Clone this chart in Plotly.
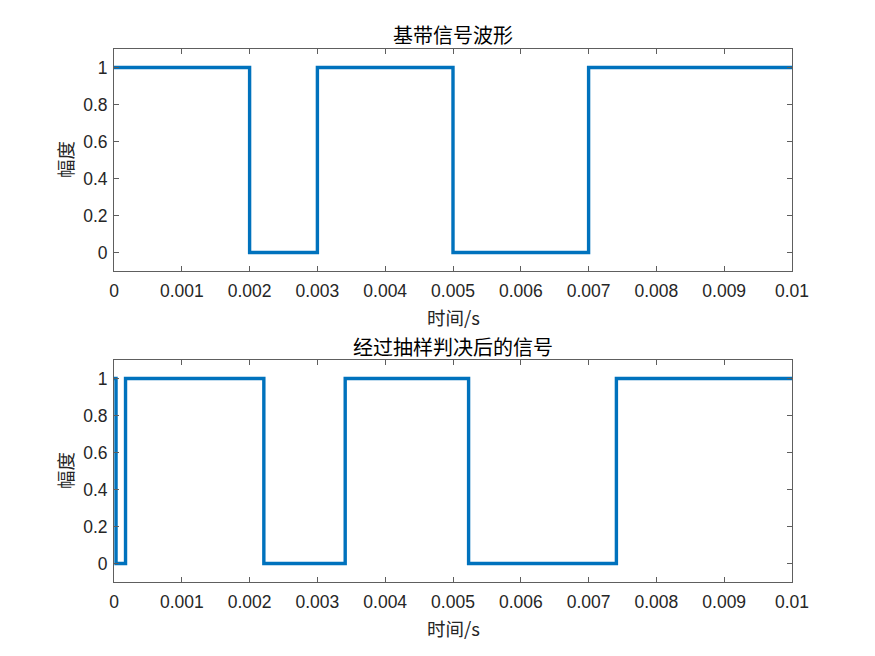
import plotly.graph_objects as go

# Data
t_base = [0, 0.002, 0.003, 0.005, 0.007, 0.01]
y_base = [1, 0, 1, 0, 1, 1]

t_dec = [0, 0.00003, 0.00017, 0.00221, 0.00341, 0.00523, 0.00741, 0.01]
y_dec = [1, 0, 1, 0, 1, 0, 1, 1]

x_ticks = [0, 0.001, 0.002, 0.003, 0.004, 0.005, 0.006, 0.007, 0.008, 0.009, 0.01]
x_ticklabels = ["0", "0.001", "0.002", "0.003", "0.004", "0.005", "0.006", "0.007", "0.008", "0.009", "0.01"]
y_ticks = [0, 0.2, 0.4, 0.6, 0.8, 1]
y_ticklabels = ["0", "0.2", "0.4", "0.6", "0.8", "1"]

titles = ["基带信号波形", "经过抽样判决后的信号"]
xlabel = "时间/s"
ylabel = "幅度"

W, H = 875, 656
OFF = 8  # page body margin
blue = "#0072BD"
axcol = "#262626"
linecol = "#5e5e5e"
tick_fam = "Liberation Sans, Arial, sans-serif"
cjk_fam = "Noto Sans CJK SC"

fig = go.Figure()
fig.add_trace(go.Scatter(x=t_base, y=y_base, mode="lines", line=dict(color=blue, width=3.4, shape="hv"),
                         xaxis="x", yaxis="y", showlegend=False))
fig.add_trace(go.Scatter(x=t_dec, y=y_dec, mode="lines", line=dict(color=blue, width=3.4, shape="hv"),
                         xaxis="x2", yaxis="y2", showlegend=False))


def px_x(p):
    return (p - OFF) / W


def px_y(p):
    return 1 - (p - OFF) / H


xdom = [px_x(114), px_x(792)]
ydom_top = [px_y(271), px_y(49)]
ydom_bot = [px_y(582), px_y(360)]

common_x = dict(range=[0, 0.01], tickvals=x_ticks, ticktext=x_ticklabels, ticks="inside", ticklen=5,
                tickcolor=linecol, showline=True, linecolor=linecol, linewidth=1, mirror="ticks",
                showgrid=False, zeroline=False, tickfont=dict(size=17.5, color=axcol, family=tick_fam),
                ticklabelstandoff=4, automargin=False, domain=xdom)
common_y = dict(range=[-0.1, 1.1], tickvals=y_ticks, ticktext=y_ticklabels, ticks="inside", ticklen=5,
                tickcolor=linecol, showline=True, linecolor=linecol, linewidth=1, mirror="ticks",
                showgrid=False, zeroline=False, tickfont=dict(size=17.5, color=axcol, family=tick_fam),
                ticklabelstandoff=2, automargin=False)

xc = (xdom[0] + xdom[1]) / 2
ann = []
for title, ytitle, yxl, yctr in [(titles[0], 34, 317, 160), (titles[1], 346, 628, 471)]:
    ann.append(dict(text=title, x=xc, y=px_y(ytitle), xref="paper", yref="paper",
                    xanchor="center", yanchor="middle", showarrow=False,
                    font=dict(size=20, color="#000000", family=cjk_fam)))
    ann.append(dict(text=xlabel, x=xc, y=px_y(yxl), xref="paper", yref="paper",
                    xanchor="center", yanchor="middle", showarrow=False,
                    font=dict(size=18.5, color=axcol, family=cjk_fam)))
    ann.append(dict(text=ylabel, x=px_x(65), y=px_y(yctr), xref="paper", yref="paper",
                    xanchor="center", yanchor="middle", showarrow=False, textangle=-90,
                    font=dict(size=18.5, color=axcol, family=cjk_fam)))

fig.update_layout(
    width=W, height=H,
    margin=dict(l=0, r=0, t=0, b=0),
    paper_bgcolor="white", plot_bgcolor="white",
    xaxis=dict(common_x, anchor="y"),
    yaxis=dict(common_y, domain=ydom_top, anchor="x"),
    xaxis2=dict(common_x, anchor="y2"),
    yaxis2=dict(common_y, domain=ydom_bot, anchor="x2"),
    annotations=ann,
)

fig.write_html("out.html")
